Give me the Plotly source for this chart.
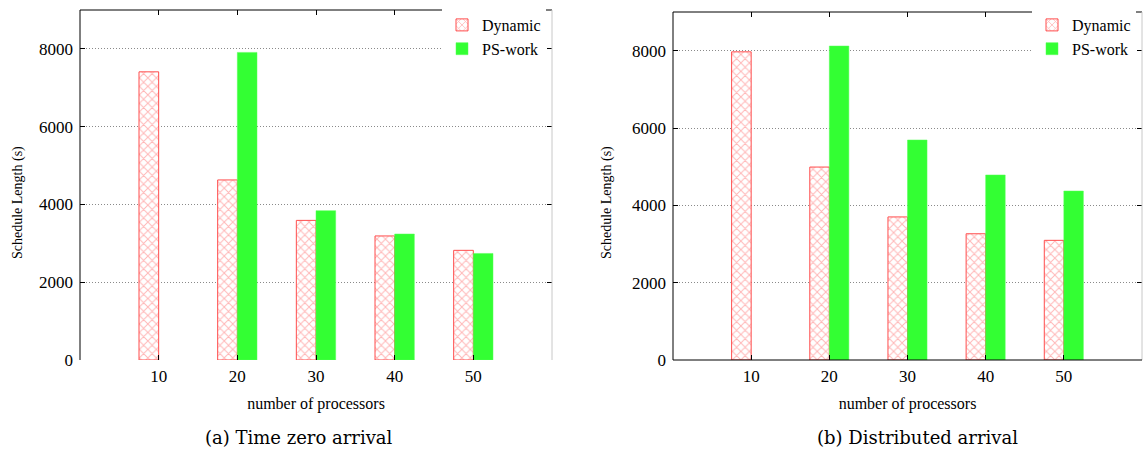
import plotly.graph_objects as go

# ---- data ----
processors = [10, 20, 30, 40, 50]
dynamic_zero = [7410, 4630, 3590, 3190, 2820]
psw_zero = [None, 7910, 3840, 3240, 2740]
dynamic_dist = [7970, 4990, 3700, 3265, 3095]
psw_dist = [None, 8120, 5690, 4785, 4370]
y_ticks = [0, 2000, 4000, 6000, 8000]
x_ticks = [10, 20, 30, 40, 50]
captions = ["(a) Time zero arrival", "(b) Distributed arrival"]

W, H = 1144, 452
def px(x): return x / W
def py(y): return 1 - y / H

SERIF = "Liberation Serif"
RED_LINE = "#ff4d4d"
RED_HATCH = "#ff6e6e"
GREEN = "#33ff33"

fig = go.Figure()

def dyn_trace(y, xa, ya, lg):
    return go.Bar(x=processors, y=y, name="Dynamic", xaxis=xa, yaxis=ya, legend=lg,
                  marker=dict(color="white", line=dict(color=RED_LINE, width=1),
                              pattern=dict(shape="x", fgcolor=RED_HATCH, bgcolor="white",
                                           size=6, solidity=0.3)))

def ps_trace(y, xa, ya, lg):
    return go.Bar(x=processors, y=y, name="PS-work", xaxis=xa, yaxis=ya, legend=lg,
                  marker=dict(color=GREEN, line=dict(color="#55ff55", width=0.5)))

fig.add_trace(dyn_trace(dynamic_zero, "x", "y", "legend"))
fig.add_trace(ps_trace(psw_zero, "x", "y", "legend"))
fig.add_trace(dyn_trace(dynamic_dist, "x2", "y2", "legend2"))
fig.add_trace(ps_trace(psw_dist, "x2", "y2", "legend2"))

xcommon = dict(range=[0, 60], tickvals=x_ticks, ticktext=[str(v) for v in x_ticks],
               ticks="inside", ticklen=5, tickcolor="black", mirror="ticks",
               showline=False, showgrid=False, zeroline=False,
               tickfont=dict(family=SERIF, size=17, color="black"),
               ticklabelstandoff=4, automargin=False,
               title=dict(text="number of processors", font=dict(family=SERIF, size=16, color="black"),
                          standoff=12))
ycommon = dict(range=[0, 9000], tickvals=y_ticks, ticks="inside", ticklen=5, tickcolor="black",
               mirror="ticks", showline=False, zeroline=False, showgrid=True,
               gridcolor="#8a8a8a", griddash="1px,2px", gridwidth=1,
               tickfont=dict(family=SERIF, size=17, color="black"),
               ticklabelstandoff=6, automargin=False)

legend_common = dict(xanchor="right", yanchor="top", bgcolor="white", borderwidth=0,
                     tracegroupgap=0, font=dict(family=SERIF, size=16, color="black"))

fig.update_layout(
    width=W, height=H, autosize=False,
    margin=dict(l=0, r=0, t=0, b=0),
    paper_bgcolor="white", plot_bgcolor="white",
    barmode="group", bargap=0.5, bargroupgap=0,
    xaxis=dict(domain=[px(80), px(552)], anchor="y", **xcommon),
    yaxis=dict(domain=[py(360), py(10)], anchor="x", **ycommon),
    xaxis2=dict(domain=[px(673), px(1142)], anchor="y2", **xcommon),
    yaxis2=dict(domain=[py(360), py(12)], anchor="x2", **ycommon),
    legend=dict(x=px(546), y=py(8), **legend_common),
    legend2=dict(x=px(1136), y=py(8), **legend_common),
    showlegend=True,
)

# frame lines (gnuplot border)
shapes = []
for xr, yr, bottom in (("x domain", "y domain", False), ("x2 domain", "y2 domain", True)):
    shapes.append(dict(type="line", xref=xr, yref=yr, x0=0, x1=0, y0=0, y1=1,
                       line=dict(color="black", width=1)))
    shapes.append(dict(type="line", xref=xr, yref=yr, x0=0, x1=1, y0=1, y1=1,
                       line=dict(color="black", width=1)))
    shapes.append(dict(type="line", xref=xr, yref=yr, x0=1, x1=1, y0=0, y1=1,
                       line=dict(color="#c8c8c8", width=1)))
    if bottom:
        shapes.append(dict(type="line", xref=xr, yref=yr, x0=0, x1=1, y0=0, y1=0,
                           line=dict(color="black", width=1)))
fig.update_layout(shapes=shapes)

ann = dict(xref="paper", yref="paper", showarrow=False, xanchor="center", yanchor="middle")
annotations = [
    dict(text="Schedule Length (s)", x=px(18), y=py(203), textangle=-90,
         font=dict(family=SERIF, size=14, color="black"), **ann),
    dict(text="Schedule Length (s)", x=px(607), y=py(203), textangle=-90,
         font=dict(family=SERIF, size=14, color="black"), **ann),
    dict(text=captions[0], x=px(299), y=py(437),
         font=dict(family="DejaVu Serif", size=18, color="black"), **ann),
    dict(text=captions[1], x=px(918), y=py(437),
         font=dict(family="DejaVu Serif", size=18, color="black"), **ann),
]
fig.update_layout(annotations=annotations)

fig.write_html("out.html")
